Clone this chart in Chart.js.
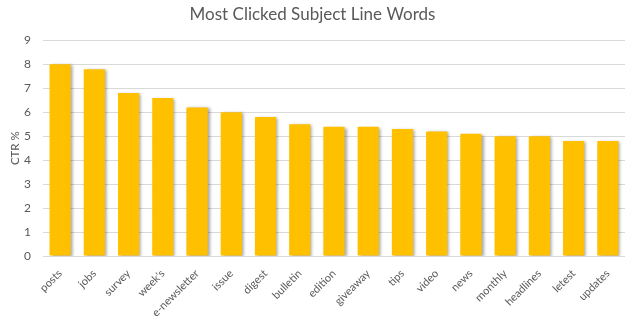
<!DOCTYPE html>
<html lang="en">
<head>
    <meta charset="UTF-8">
    <title>Most Clicked Subject Line Words</title>
    <script src="https://cdn.jsdelivr.net/npm/chart.js"></script>
    <style>
        html, body { margin: 0; padding: 0; background: #fff; }
        #wrap { width: 625px; height: 318px; }
    </style>
</head>
<body>
    <div id="wrap"><canvas id="chartCtr"></canvas></div>

    <script>
    // Data
    const palavras = ['posts', 'jobs', 'survey', "week's", 'e-newsletter', 'issue', 'digest', 'bulletin',
        'edition', 'giveaway', 'tips', 'video', 'news', 'monthly', 'headlines', 'letest', 'updates'];
    const ctr = [8.0, 7.8, 6.8, 6.6, 6.2, 6.0, 5.8, 5.5, 5.4, 5.4, 5.3, 5.2, 5.1, 5.0, 5.0, 4.8, 4.8];
    const yTicks = [0, 1, 2, 3, 4, 5, 6, 7, 8, 9];

    // sombra das barras, como no Excel
    const sombra = {
        id: 'sombra',
        beforeDatasetDraw(chart) {
            const c = chart.ctx;
            c.save();
            c.shadowColor = 'rgba(0, 0, 0, 0.35)';
            c.shadowOffsetX = 2;
            c.shadowOffsetY = 1;
            c.shadowBlur = 3;
        },
        afterDatasetDraw(chart) {
            chart.ctx.restore();
        }
    };

    const ctx = document.getElementById('chartCtr').getContext('2d');
    new Chart(ctx, {
        type: 'bar',
        data: {
            labels: palavras,
            datasets: [{
                label: 'CTR %',
                data: ctr,
                backgroundColor: '#FFC000',
                categoryPercentage: 1.0,
                barPercentage: 0.62
            }]
        },
        options: {
            responsive: true,
            maintainAspectRatio: false,
            animation: false,
            layout: { padding: { left: 0, right: 0, top: 2, bottom: 0 } },
            plugins: {
                legend: { display: false },
                tooltip: { enabled: false },
                title: {
                    display: true,
                    text: 'Most Clicked Subject Line Words',
                    color: '#595959',
                    font: { family: 'Lato', size: 17, weight: 'normal' },
                    padding: { top: 2, bottom: 16 }
                }
            },
            scales: {
                x: {
                    grid: { display: false },
                    border: { display: false },
                    afterFit: axis => { axis.height = 62; },
                    ticks: {
                        color: '#595959',
                        font: { family: 'Lato', size: 11 },
                        minRotation: 45,
                        maxRotation: 45,
                        padding: 3
                    }
                },
                y: {
                    min: 0,
                    max: 9,
                    afterBuildTicks: axis => { axis.ticks = yTicks.map(v => ({ value: v })); },
                    afterFit: axis => { axis.width = 43; },
                    grid: { color: '#d9d9d9', drawTicks: false },
                    border: { display: false },
                    ticks: {
                        color: '#595959',
                        font: { family: 'Lato', size: 12 },
                        padding: 12
                    },
                    title: {
                        display: true,
                        text: 'CTR %',
                        color: '#595959',
                        font: { family: 'Lato', size: 11.5 },
                        padding: { top: 8, bottom: 4 }
                    }
                }
            }
        },
        plugins: [sombra]
    });
    </script>
</body>
</html>
